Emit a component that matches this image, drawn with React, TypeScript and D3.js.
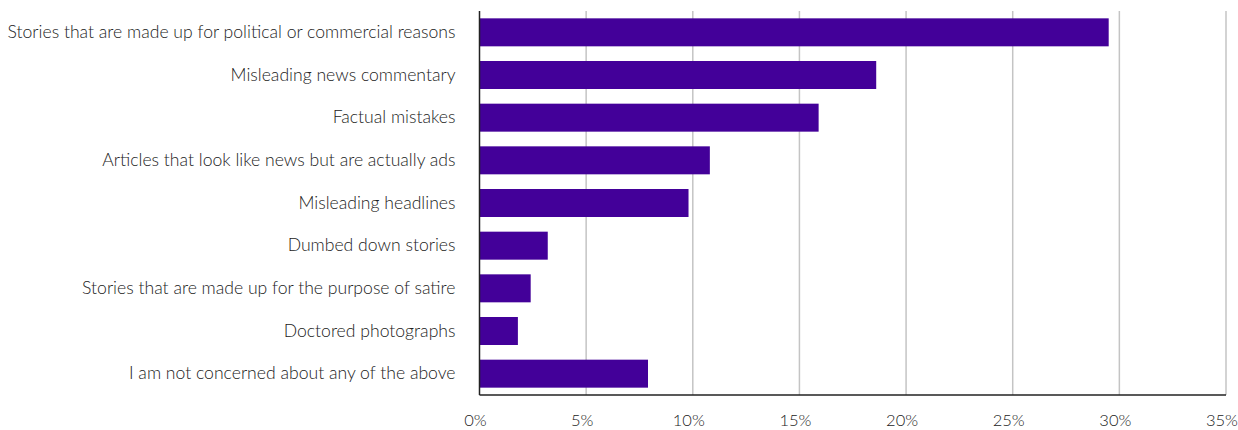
import React from "react";
import * as d3 from "d3";

const categories = [
  "Stories that are made up for political or commercial reasons",
  "Misleading news commentary",
  "Factual mistakes",
  "Articles that look like news but are actually ads",
  "Misleading headlines",
  "Dumbed down stories",
  "Stories that are made up for the purpose of satire",
  "Doctored photographs",
  "I am not concerned about any of the above",
];
const values = [29.5, 18.6, 15.9, 10.8, 9.8, 3.2, 2.4, 1.8, 7.9];
const ticks = [0, 5, 10, 15, 20, 25, 30, 35];

const W = 1238;
const H = 430;
const left = 479.5;
const right = 1226;
const top = 11;
const bottom = 395;
const FONT = "Lato, 'Open Sans', sans-serif";

export default function App() {
  const x = d3.scaleLinear().domain([0, 35]).range([left, right]);
  const y = d3
    .scaleBand<string>()
    .domain(categories)
    .range([top, bottom])
    .paddingInner(0.344)
    .paddingOuter(0.172);

  return (
    <svg
      width={W}
      height={H}
      style={{ position: "absolute", left: 0, top: 0, display: "block" }}
    >
      <rect width={W} height={H} fill="#fff" />
      {ticks.slice(1).map((t) => (
        <line
          key={"g" + t}
          x1={x(t)}
          x2={x(t)}
          y1={top}
          y2={bottom}
          stroke="#c4c4c4"
          strokeWidth={1.5}
        />
      ))}
      {categories.map((c, i) => (
        <rect
          key={c}
          x={x(0)}
          y={y(c)}
          width={x(values[i]) - x(0)}
          height={y.bandwidth()}
          fill="#430099"
        />
      ))}
      <line x1={left} x2={left} y1={top} y2={bottom} stroke="#222" strokeWidth={1.5} />
      <line x1={left} x2={right} y1={bottom} y2={bottom} stroke="#222" strokeWidth={1.5} />
      {categories.map((c) => (
        <text
          key={"l" + c}
          x={left - 24}
          y={(y(c) as number) + y.bandwidth() / 2 - 1}
          textAnchor="end"
          dominantBaseline="central"
          fontFamily={FONT}
          fontWeight={300}
          fontSize={17.6}
          fill="#222"
        >
          {c}
        </text>
      ))}
      {ticks.map((t) => (
        <text
          key={"t" + t}
          x={x(t) - 4}
          y={426}
          textAnchor="middle"
          fontFamily={FONT}
          fontWeight={300}
          fontSize={16.5}
          fill="#222"
        >
          {t + "%"}
        </text>
      ))}
    </svg>
  );
}
